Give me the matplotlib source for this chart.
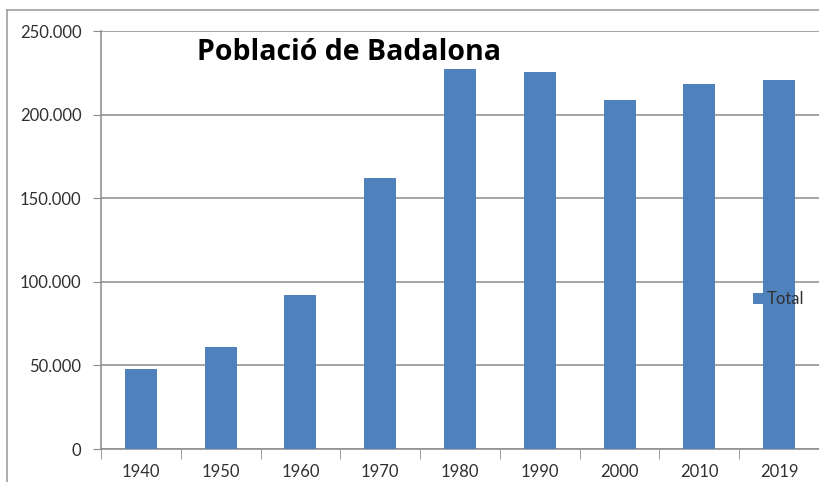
import matplotlib.pyplot as plt
from matplotlib.lines import Line2D
from matplotlib.ticker import FuncFormatter

years = ["1940", "1950", "1960", "1970", "1980", "1990", "2000", "2010", "2019"]
total = [48000, 61000, 92000, 162000, 227000, 225500, 209000, 218600, 220400]

plt.rcParams["font.family"] = ["Lato", "DejaVu Sans"]

fig = plt.figure(figsize=(8.19, 4.82), dpi=100)
ax = fig.add_axes([101 / 819, 33 / 482, 718 / 819, 418 / 482])

x = list(range(len(years)))
ax.bar(x, total, width=0.40, color="#4F81BD", label="Total", zorder=3)

ax.set_ylim(0, 250000)
ax.set_xlim(-0.5, -0.5 + 718 / 80.56)
ax.set_yticks([0, 50000, 100000, 150000, 200000, 250000])
ax.yaxis.set_major_formatter(FuncFormatter(lambda v, p: f"{int(v):,}".replace(",", ".")))
ax.set_xticks(x)
ax.set_xticklabels(years)
ax.set_xticks([i - 0.5 for i in range(len(years) + 1)], minor=True)

ax.grid(axis="y", color="#8c8c8c", linewidth=1.1, zorder=0)
for s in ["top", "right"]:
    ax.spines[s].set_visible(False)
for s in ["left", "bottom"]:
    ax.spines[s].set_color("#8c8c8c")
    ax.spines[s].set_linewidth(1.1)

ax.tick_params(axis="y", length=6, color="#8c8c8c", labelsize=12, labelcolor="#303030", pad=8)
ax.tick_params(axis="x", which="major", length=0, labelsize=12, labelcolor="#303030", pad=11)
ax.tick_params(axis="x", which="minor", length=7, color="#8c8c8c")

fig.text(349 / 819, 1 - 53 / 482, "Població de Badalona", ha="center", va="center",
         fontsize=20.5, fontweight="bold", color="#000000", family=["Open Sans", "DejaVu Sans"])

leg = fig.legend(loc="center left", bbox_to_anchor=(753 / 819, 1 - 299 / 482),
                 frameon=False, fontsize=12, handlelength=0.65, handleheight=0.65,
                 handletextpad=0.2, borderpad=0, borderaxespad=0)
for t in leg.get_texts():
    t.set_color("#303030")

# chart area border
fig.add_artist(Line2D([7 / 819, 1], [1 - 10 / 482] * 2, color="#a0a0a0", linewidth=1.2))
fig.add_artist(Line2D([7 / 819] * 2, [0, 1 - 10 / 482], color="#a0a0a0", linewidth=1.2))

fig.savefig("out.png", dpi=100)
